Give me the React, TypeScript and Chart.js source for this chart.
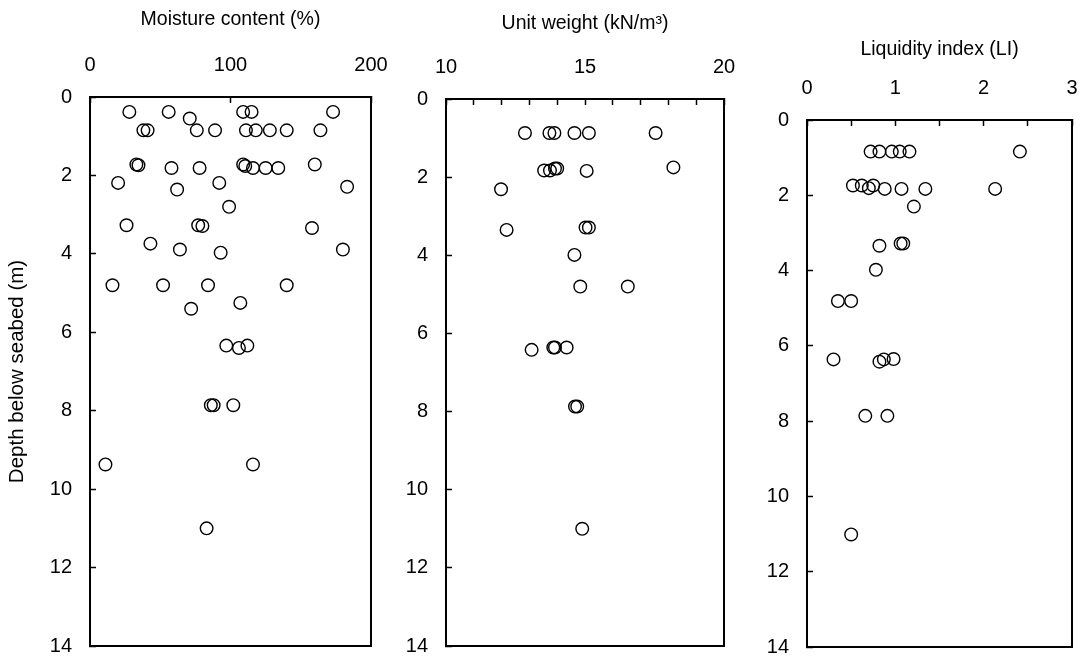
import { useEffect, useRef } from "react";
import { Chart, registerables } from "chart.js";

Chart.register(...registerables);

// Moisture content (%) against depth (m)
const moistureValue = [
  28, 56, 71, 38, 41, 76, 89, 109, 115, 111, 118, 128, 140, 164, 173,
  33, 34.5, 58, 78, 109, 110.5, 116, 125, 134, 160,
  20, 62, 92, 183, 99,
  26, 77, 80, 158,
  43, 64, 93, 180,
  16, 52, 84, 140,
  72, 107,
  97, 106, 112,
  86, 88, 102,
  11, 116,
  83,
];
const moistureDepth = [
  0.38, 0.38, 0.55, 0.85, 0.85, 0.85, 0.85, 0.38, 0.38, 0.85, 0.85, 0.85, 0.85, 0.85, 0.38,
  1.72, 1.74, 1.81, 1.81, 1.72, 1.76, 1.81, 1.81, 1.81, 1.72,
  2.19, 2.36, 2.19, 2.29, 2.8,
  3.27, 3.27, 3.29, 3.34,
  3.74, 3.89, 3.97, 3.89,
  4.8, 4.8, 4.8, 4.8,
  5.4, 5.25,
  6.34, 6.4, 6.34,
  7.86, 7.86, 7.86,
  9.37, 9.37,
  11.0,
];

// Unit weight (kN/m3) against depth (m)
const unitWeightValue = [
  12.84, 13.72, 13.9, 14.62, 15.14, 17.54,
  13.53, 13.74, 13.92, 14.0, 15.06, 18.18,
  11.98,
  12.18, 15.02, 15.14,
  14.62,
  14.83, 16.54,
  13.08, 13.86, 13.92, 14.34,
  14.64, 14.72,
  14.9,
];
const unitWeightDepth = [
  0.87, 0.87, 0.87, 0.87, 0.87, 0.87,
  1.83, 1.83, 1.78, 1.78, 1.84, 1.75,
  2.31,
  3.35, 3.29, 3.29,
  3.99,
  4.8, 4.8,
  6.42, 6.36, 6.36, 6.36,
  7.87, 7.87,
  11.0,
];

// Liquidity index against depth (m)
const liquidityValue = [
  0.72, 0.82, 0.96, 1.05, 1.16, 2.41,
  0.52, 0.62, 0.7, 0.75, 0.88, 1.07, 1.34, 2.13,
  1.21,
  0.82, 1.06, 1.09,
  0.78,
  0.35, 0.5,
  0.3, 0.82, 0.87, 0.98,
  0.66, 0.91,
  0.5,
];
const liquidityDepth = [
  0.84, 0.84, 0.84, 0.84, 0.84, 0.84,
  1.74, 1.74, 1.81, 1.74, 1.83, 1.83, 1.83, 1.83,
  2.3,
  3.34, 3.28, 3.28,
  3.98,
  4.81, 4.81,
  6.36, 6.42, 6.36, 6.35,
  7.86, 7.86,
  11.01,
];

const FONT = "'Liberation Sans', Arial, Helvetica, sans-serif";

type PanelSpec = {
  title: string;
  values: number[];
  depths: number[];
  xMin: number;
  xMax: number;
  xStep: number;
  labelEvery: number;
  yTitle?: string;
  canvasLeft: number;
  plotLeft: number;
  plotRight: number;
  plotTop: number;
  plotBottom: number;
  titleGap: number;
};

const PAGE_W = 1082;
const PAGE_H = 660;
// room kept past the right/bottom frame for Chart.js label padding
const EXTRA_RIGHT = 50;
const EXTRA_BOTTOM = 50;

const panels: PanelSpec[] = [
  {
    title: "Moisture content (%)",
    values: moistureValue,
    depths: moistureDepth,
    xMin: 0,
    xMax: 200,
    xStep: 100,
    labelEvery: 100,
    yTitle: "Depth below seabed (m)",
    canvasLeft: 0,
    plotLeft: 90,
    plotRight: 371,
    plotTop: 97,
    plotBottom: 646,
    titleGap: 7.5,
  },
  {
    title: "Unit weight (kN/m³)",
    values: unitWeightValue,
    depths: unitWeightDepth,
    xMin: 10,
    xMax: 20,
    xStep: 1,
    labelEvery: 5,
    canvasLeft: 380,
    plotLeft: 446,
    plotRight: 724,
    plotTop: 99,
    plotBottom: 646,
    titleGap: 11.5,
  },
  {
    title: "Liquidity index (LI)",
    values: liquidityValue,
    depths: liquidityDepth,
    xMin: 0,
    xMax: 3,
    xStep: 0.5,
    labelEvery: 1,
    canvasLeft: 740,
    plotLeft: 807,
    plotRight: 1072,
    plotTop: 120,
    plotBottom: 647,
    titleGap: 37.5,
  },
];

// Right and bottom sides of the plot frame
const framePlugin = {
  id: "frame",
  afterDraw(chart: any) {
    const { ctx, chartArea: a } = chart;
    ctx.save();
    ctx.strokeStyle = "#000";
    ctx.lineWidth = 2;
    ctx.beginPath();
    ctx.moveTo(a.right, a.top - 1);
    ctx.lineTo(a.right, a.bottom);
    ctx.lineTo(a.left - 1, a.bottom);
    ctx.stroke();
    ctx.restore();
  },
};

function Panel({ spec }: { spec: PanelSpec }) {
  const ref = useRef<HTMLCanvasElement | null>(null);
  const canvasWidth = spec.plotRight + EXTRA_RIGHT - spec.canvasLeft;
  const canvasHeight = spec.plotBottom + EXTRA_BOTTOM;

  useEffect(() => {
    if (!ref.current) return;
    const yWidth = spec.plotLeft - spec.canvasLeft;

    const chart = new Chart(ref.current, {
      type: "scatter",
      data: {
        datasets: [
          {
            data: spec.values.map((v, i) => ({ x: v, y: spec.depths[i] })),
            pointRadius: 6.3,
            pointHoverRadius: 6.3,
            pointBorderWidth: 1.4,
            pointBorderColor: "#000",
            pointBackgroundColor: "rgba(0,0,0,0)",
            clip: false,
          },
        ],
      },
      options: {
        responsive: false,
        animation: false,
        events: [],
        layout: {
          padding: { left: 0, top: 0, right: EXTRA_RIGHT, bottom: EXTRA_BOTTOM },
        },
        plugins: { legend: { display: false }, tooltip: { enabled: false } },
        scales: {
          x: {
            type: "linear",
            position: "top",
            min: spec.xMin,
            max: spec.xMax,
            afterFit: (s: any) => {
              s.height = spec.plotTop;
            },
            ticks: {
              stepSize: spec.xStep,
              autoSkip: false,
              maxRotation: 0,
              padding: 26,
              color: "#000",
              font: { family: FONT, size: 20 },
              callback: (v: any) => {
                const n = Number(v);
                const r = n / spec.labelEvery;
                return Math.abs(r - Math.round(r)) < 1e-6 ? String(n) : "";
              },
            },
            grid: {
              drawOnChartArea: false,
              drawTicks: true,
              tickLength: -6,
              tickColor: "#000",
              tickWidth: 1.5,
            },
            border: { display: true, color: "#000", width: 2 },
            title: {
              display: true,
              text: spec.title,
              color: "#000",
              font: { family: FONT, size: 19.5 },
              padding: { top: spec.titleGap, bottom: 0 },
            },
          },
          y: {
            type: "linear",
            position: "left",
            reverse: true,
            min: 0,
            max: 14,
            afterFit: (s: any) => {
              s.width = yWidth;
            },
            ticks: {
              stepSize: 2,
              autoSkip: false,
              padding: 24,
              color: "#000",
              font: { family: FONT, size: 20 },
            },
            grid: {
              drawOnChartArea: false,
              drawTicks: true,
              tickLength: -6,
              tickColor: "#000",
              tickWidth: 1.5,
            },
            border: { display: true, color: "#000", width: 2 },
            title: {
              display: !!spec.yTitle,
              text: spec.yTitle || "",
              color: "#000",
              font: { family: FONT, size: 20.5 },
              padding: { top: 5, bottom: 0 },
            },
          },
        },
      },
      plugins: [framePlugin],
    });

    return () => chart.destroy();
  }, [spec]);

  return (
    <canvas
      ref={ref}
      width={canvasWidth}
      height={canvasHeight}
      style={{
        position: "absolute",
        left: spec.canvasLeft,
        top: 0,
        width: canvasWidth,
        height: canvasHeight,
      }}
    />
  );
}

export default function App() {
  return (
    <div
      style={{
        position: "absolute",
        left: 0,
        top: 0,
        width: PAGE_W,
        height: PAGE_H,
        background: "#fff",
        overflow: "hidden",
      }}
    >
      {panels.map((p, i) => (
        <Panel key={i} spec={p} />
      ))}
    </div>
  );
}
